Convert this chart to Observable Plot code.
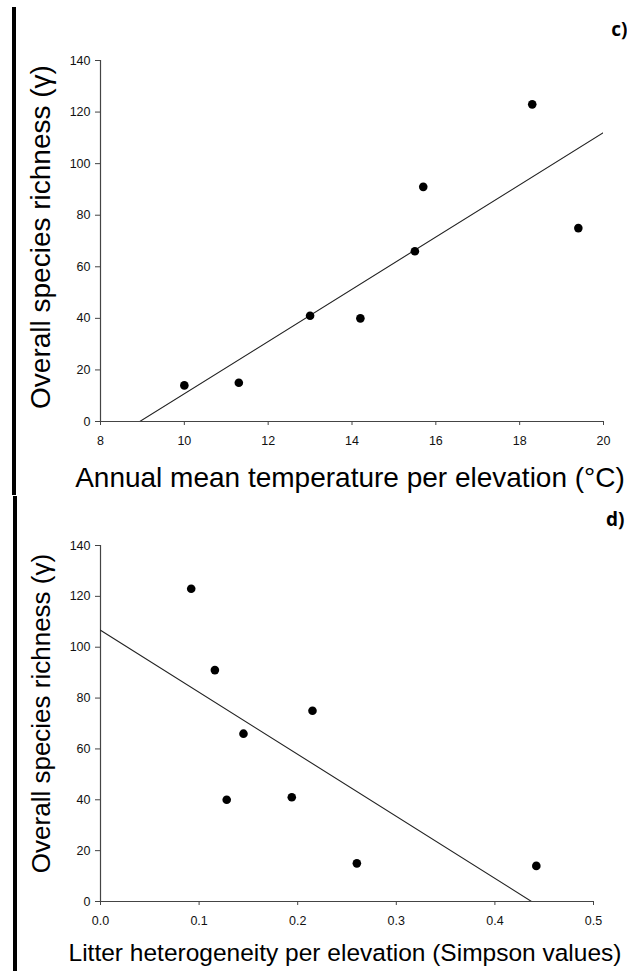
<!DOCTYPE html>
<html>
<head>
<meta charset="utf-8">
<script src="https://cdn.jsdelivr.net/npm/d3@7"></script>
<script src="https://cdn.jsdelivr.net/npm/@observablehq/plot@0.6"></script>
<style>
  body { margin: 0; background: #fff; }
  #fig { position: relative; width: 627px; height: 971px; overflow: hidden; background: #fff; }
  .panel { position: absolute; left: 0; }
  .panel svg { overflow: visible; }
  .edge { position: absolute; width: 4px; background: #000; }
</style>
</head>
<body>
<div id="fig"></div>
<script>
// Overall species richness (γ) at each elevation
const richness = [14, 15, 41, 40, 66, 91, 123, 75];
// Annual mean temperature at the same elevations (°C)
const temperature = [10.0, 11.3, 13.0, 14.2, 15.5, 15.7, 18.3, 19.4];
// Litter heterogeneity at the same elevations (Simpson values)
const litter = [0.442, 0.260, 0.194, 0.128, 0.145, 0.116, 0.092, 0.215];

const richnessTicks = [0, 20, 40, 60, 80, 100, 120, 140];
const temperatureTicks = [8, 10, 12, 14, 16, 18, 20];
const litterTicks = [0.0, 0.1, 0.2, 0.3, 0.4, 0.5];

const yTitle = "Overall species richness (γ)";
const tempTitle = "Annual mean temperature per elevation (°C)";
const litterTitle = "Litter heterogeneity per elevation (Simpson values)";

// ordinary least-squares fit of y on x
function fit(xs, ys) {
  const mx = d3.mean(xs), my = d3.mean(ys);
  const sxy = d3.sum(xs, (x, i) => (x - mx) * (ys[i] - my));
  const sxx = d3.sum(xs, x => (x - mx) ** 2);
  const slope = sxy / sxx;
  return {slope, intercept: my - slope * mx};
}

const sans = "Liberation Sans, Arial, sans-serif";

function panel(o) {
  const rows = o.xs.map((x, i) => ({x, y: richness[i]}));
  const {slope, intercept} = fit(o.xs, richness);
  const xDomain = d3.extent(o.xTicks);
  const yDomain = d3.extent(richnessTicks);
  // fitted line across the x domain, clipped to the frame
  const fitted = xDomain.map(x => ({x, y: intercept + slope * x}));
  return Plot.plot({
    width: 627,
    height: o.height,
    marginTop: o.mt,
    marginBottom: o.mb,
    marginLeft: o.ml,
    marginRight: o.mr,
    x: {domain: xDomain},
    y: {domain: yDomain},
    style: {fontFamily: sans, fontSize: "12.5px", color: "#111", background: "#fff", overflow: "visible"},
    marks: [
      Plot.axisX({ticks: o.xTicks, tickFormat: o.xFormat, tickSize: 4, tickPadding: 11, stroke: "#444", label: null}),
      Plot.axisY({ticks: richnessTicks, tickFormat: d3.format("d"), tickSize: 5, tickPadding: 5, stroke: "#444", label: null}),
      Plot.ruleY([yDomain[0]], {stroke: "#444", strokeWidth: 1.2}),
      Plot.ruleX([xDomain[0]], {stroke: "#444", strokeWidth: 1.2}),
      Plot.line(fitted, {x: "x", y: "y", stroke: "#222", strokeWidth: 1.1, clip: true}),
      Plot.dot(rows, {x: "x", y: "y", r: 4.3, fill: "#000", stroke: null}),
      Plot.text([o.xTitle], {frameAnchor: "bottom", textAnchor: "middle", lineAnchor: "bottom", dx: o.xTitleDx, dy: o.xTitleDy,
        fontSize: o.xTitleSize, fontFamily: sans, fill: "#000"}),
      Plot.text([yTitle], {frameAnchor: "left", textAnchor: "middle", rotate: -90, lineAnchor: "bottom", dx: -51, dy: o.yTitleDy,
        fontSize: o.yTitleSize, fontFamily: sans, fill: "#000"}),
      Plot.text([o.tag], {frameAnchor: "top-right", textAnchor: "end", lineAnchor: "bottom", dx: o.tagDx, dy: o.tagDy,
        fontSize: 19, fontWeight: "bold", fontFamily: "Open Sans, sans-serif", fill: "#000"})
    ]
  });
}

const fig = document.getElementById("fig");

function place(svg, top, edge) {
  const wrap = document.createElement("div");
  wrap.className = "panel";
  wrap.style.top = top + "px";
  wrap.appendChild(svg);
  fig.appendChild(wrap);
  const bar = document.createElement("div");
  bar.className = "edge";
  bar.style.left = edge.left + "px";
  bar.style.top = edge.top + "px";
  bar.style.height = edge.height + "px";
  fig.appendChild(bar);
}

// panel c): richness against temperature
place(panel({
  xs: temperature, xTicks: temperatureTicks, xFormat: d3.format("d"),
  height: 495, mt: 60, mb: 74, ml: 100, mr: 24,
  xTitle: tempTitle, xTitleSize: 28, xTitleDx: -2, xTitleDy: 65,
  yTitleSize: 28, yTitleDy: -4,
  tag: "c)", tagDx: 24, tagDy: -25
}), 0, {left: 12, top: 7, height: 488});

// panel d): richness against litter heterogeneity
place(panel({
  xs: litter, xTicks: litterTicks, xFormat: d3.format(".1f"),
  height: 476, mt: 50, mb: 70, ml: 100, mr: 34,
  xTitle: litterTitle, xTitleSize: 24.5, xTitleDx: -2, xTitleDy: 59,
  yTitleSize: 26, yTitleDy: -10,
  tag: "d)", tagDx: 31, tagDy: -20
}), 495, {left: 13, top: 496, height: 475});
</script>
</body>
</html>
